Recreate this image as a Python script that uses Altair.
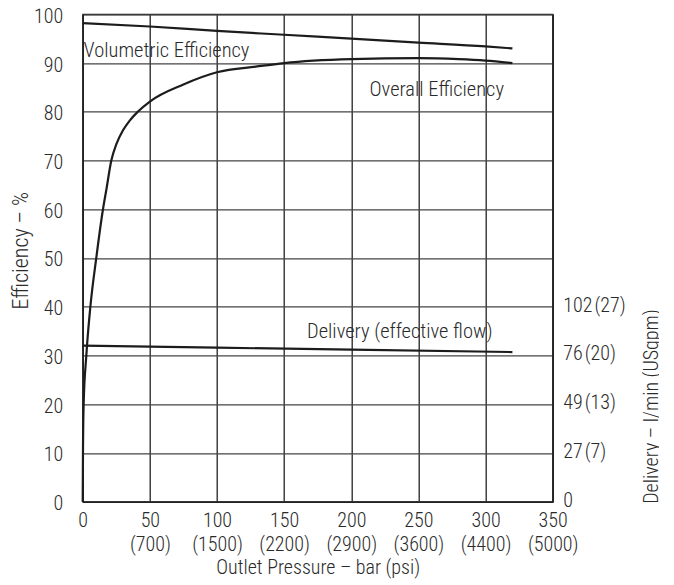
import altair as alt
import pandas as pd

FONT = "Liberation Sans Narrow, Roboto Condensed, DejaVu Sans Condensed, sans-serif"

# ---- data ----
overall_bar = [0, 0.2, 0.7, 2.7, 5.7, 10.1, 15.1, 17.6, 21.3, 25, 30, 35, 41, 50, 75, 100, 130, 150, 200, 250, 280, 300, 320]
overall_pct = [0, 10, 20, 30, 40, 50, 60, 64, 70, 73.3, 76.2, 78.2, 80, 82.1, 85.6, 88.1, 89.3, 90.0, 90.8, 91.0, 90.8, 90.5, 90.0]

vol_bar = [0, 50, 100, 150, 200, 250, 300, 320]
vol_pct = [98.2, 97.5, 96.6, 95.8, 95.0, 94.2, 93.4, 93.0]

deliv_bar = [0, 100, 200, 320]
deliv_pct = [32.0, 31.6, 31.2, 30.7]

x_ticks = [0, 50, 100, 150, 200, 250, 300, 350]
psi_labels = ["", "(700)", "(1500)", "(2200)", "(2900)", "(3600)", "(4400)", "(5000)"]
y_ticks = [0, 10, 20, 30, 40, 50, 60, 70, 80, 90, 100]
right_ticks = [0, 10, 20, 30, 40]
right_labels = ["0", "27\u200a(7)", "49\u200a(13)", "76\u200a(20)", "102\u200a(27)"]

ann_text = ["Volumetric Efficiency", "Overall Efficiency", "Delivery (effective flow)"]
ann_bar = [0.6, 213.6, 167]
ann_pct = [91.3, 83.3, 33.6]

# ---- tables ----
overall_df = pd.DataFrame({"bar": overall_bar, "pct": overall_pct})
vol_df = pd.DataFrame({"bar": vol_bar, "pct": vol_pct})
deliv_df = pd.DataFrame({"bar": deliv_bar, "pct": deliv_pct})
ann_df = pd.DataFrame({"text": ann_text, "bar": ann_bar, "pct": ann_pct})

# label expressions
x_expr = "'0'"
for v, p in reversed(list(zip(x_ticks, psi_labels))):
    if v == 0:
        continue
    x_expr = f"datum.value == {v} ? ['{v}', '{p}'] : " + x_expr

r_expr = "''"
for v, l in reversed(list(zip(right_ticks, right_labels))):
    r_expr = f"datum.value == {v} ? '{l}' : " + r_expr

LINE = "#1c1c1c"
TXT = "#2a2a2a"

x_enc = alt.X(
    "bar:Q",
    scale=alt.Scale(domain=[0, 350], nice=False),
    title="Outlet Pressure – bar (psi)",
    axis=alt.Axis(
        values=x_ticks,
        labelExpr=x_expr,
        grid=True,
        gridColor="#222222",
        gridWidth=1.3,
        domainColor="#222222",
        domainWidth=1.6,
        ticks=False,
        labelPadding=9,
        labelFontSize=20,
        labelFontWeight=300,
        labelLineHeight=24,
        labelColor=TXT,
        labelFlush=False,
        labelOverlap=False,
        titleFontSize=20,
        titleFontWeight=300,
        titleColor=TXT,
        titlePadding=3,
    ),
)

y_left = alt.Y(
    "pct:Q",
    scale=alt.Scale(domain=[0, 100], nice=False),
    title="Efficiency – %",
    axis=alt.Axis(
        values=y_ticks,
        grid=True,
        gridColor="#444444",
        gridWidth=1.3,
        domainColor="#222222",
        domainWidth=1.6,
        ticks=False,
        labelPadding=20,
        labelFontSize=20,
        labelFontWeight=300,
        labelOffset=2,
        labelColor=TXT,
        labelFlush=False,
        titleFontSize=22,
        titleFontWeight=300,
        titleColor=TXT,
        titlePadding=1,
        titleY=236,
    ),
)

y_right = alt.Y(
    "pct:Q",
    scale=alt.Scale(domain=[0, 100], nice=False),
    title="Delivery – l/min (USgpm)",
    axis=alt.Axis(
        orient="right",
        values=right_ticks,
        labelExpr=r_expr,
        grid=False,
        domainColor="#222222",
        domainWidth=1.6,
        ticks=False,
        labelPadding=10,
        labelFontSize=20,
        labelFontWeight=300,
        labelOffset=-1.5,
        labelColor=TXT,
        labelFlush=False,
        titleFontSize=20,
        titleFontWeight=300,
        titleColor=TXT,
        titleAngle=270,
        titleAlign="left",
        titleBaseline="alphabetic",
        titleX=105,
        titleY=489,
    ),
)

overall = alt.Chart(overall_df).mark_line(color=LINE, strokeWidth=2.2, interpolate="monotone").encode(x=x_enc, y=y_left)
vol = alt.Chart(vol_df).mark_line(color=LINE, strokeWidth=2.2, interpolate="monotone").encode(x=x_enc, y=y_left)
ann = alt.Chart(ann_df).mark_text(
    align="left", baseline="alphabetic", fontSize=20.5, fontWeight=300, color=TXT
).encode(x=x_enc, y=y_left, text="text:N")

left_group = alt.layer(vol, overall, ann)

deliv = alt.Chart(deliv_df).mark_line(color=LINE, strokeWidth=2.2).encode(x=x_enc, y=y_right)

chart = (
    alt.layer(left_group, deliv)
    .resolve_scale(y="independent")
    .properties(
        width=470,
        height=487.4,
        autosize="none",
        padding={"left": 74.7, "top": 6.3, "right": 106.3, "bottom": 80},
    )
    .configure(font=FONT)
    .configure_view(stroke="#222222", strokeWidth=1.3)
)

chart.save("out.html", embed_options={"renderer": "svg", "actions": False})
